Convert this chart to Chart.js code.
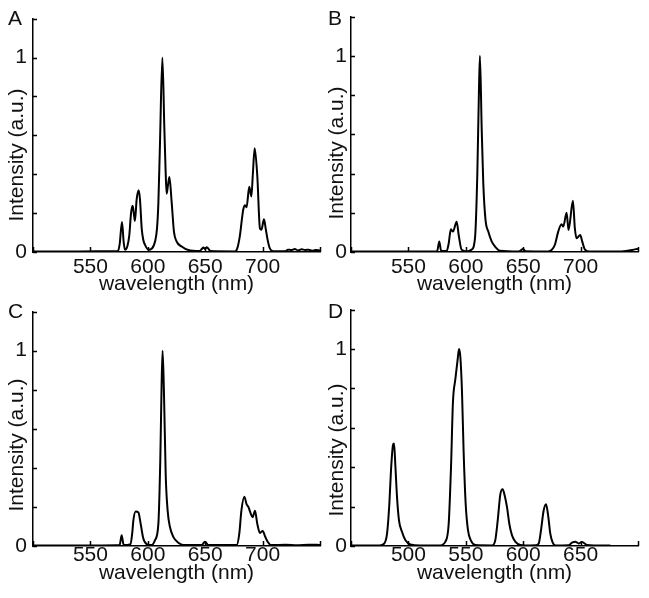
<!DOCTYPE html>
<html>
<head>
<meta charset="utf-8">
<title>Emission spectra</title>
<script src="https://cdn.jsdelivr.net/npm/chart.js@4"></script>
<style>
  body { margin: 0; background: #fff; width: 649px; height: 598px; position: relative; overflow: hidden; }
  .panel { position: absolute; }
</style>
</head>
<body>
<div class="panel" style="left:0;top:0"><canvas id="cA" width="324" height="298"></canvas></div>
<div class="panel" style="left:318px;top:0"><canvas id="cB" width="324" height="298"></canvas></div>
<div class="panel" style="left:0;top:293px"><canvas id="cC" width="324" height="305"></canvas></div>
<div class="panel" style="left:318px;top:293px"><canvas id="cD" width="324" height="305"></canvas></div>
<script>
// Spektren (Wellenlänge in nm, Intensität normiert)
const wlA = [500, 540, 570, 574, 575.5, 577.5, 579, 580.1, 582.2, 583.9, 585.4, 586.8, 588, 588.8, 590.3, 592, 593.2, 594.7, 596.1, 597.6,
  600.5, 603.4, 606.3, 608, 609.2, 610.6, 612.7, 614.4, 615.5, 616.4, 617.5, 618.8, 620.8, 622.8, 625.1, 629.5, 635.3, 645, 647, 648.4,
  650, 651.5, 653, 654.5, 676, 678, 680.3, 682, 683.2, 684.7, 686, 688.4, 690.2, 691.5, 693.1, 695.4, 697.7, 699, 701.2, 702.7,
  704.4, 706.4, 709.3, 720, 722, 725, 728, 731, 734, 737, 740, 743, 746, 750];
const intA = [0.003, 0.003, 0.004, 0.005, 0.04, 0.154, 0.05, 0.012, 0.03, 0.087, 0.2, 0.238, 0.19, 0.16, 0.27, 0.317, 0.27, 0.12, 0.062, 0.037,
  0.012, 0.017, 0.054, 0.12, 0.25, 0.556, 1.0, 0.64, 0.42, 0.30, 0.34, 0.385, 0.255, 0.104, 0.054, 0.028, 0.01, 0.005, 0.015, 0.023,
  0.015, 0.025, 0.015, 0.005, 0.003, 0.02, 0.087, 0.17, 0.22, 0.241, 0.23, 0.335, 0.285, 0.40, 0.534, 0.389, 0.12, 0.115, 0.168, 0.12,
  0.062, 0.017, 0.004, 0.004, 0.012, 0.01, 0.015, 0.008, 0.014, 0.01, 0.012, 0.006, 0.01, 0.008];

const wlB = [500, 560, 575, 576.9, 578.5, 583.3, 585, 587, 588.8, 592, 594, 596.3, 600.7, 605, 608, 610, 611.4, 612.3, 613.8, 615.2,
  617.2, 619.6, 622.5, 625.4, 629.7, 646, 650, 652, 671.8, 675, 677.6, 680.5, 683.4, 684.9, 687.8, 689.5, 693.3, 695, 696.5, 699.7,
  701.4, 703.8, 708, 735.7, 745, 750];
const intB = [0.003, 0.003, 0.004, 0.054, 0.005, 0.005, 0.04, 0.116, 0.104, 0.154, 0.079, 0.012, 0.003, 0.012, 0.07, 0.389, 0.807, 1.0, 0.64, 0.355,
  0.162, 0.104, 0.054, 0.028, 0.007, 0.003, 0.015, 0.004, 0.003, 0.012, 0.037, 0.104, 0.141, 0.13, 0.2, 0.112, 0.261, 0.12, 0.07, 0.087,
  0.054, 0.012, 0.002, 0.003, 0.01, 0.017];

const wlC = [500, 560, 575.5, 577.2, 579, 585, 586.5, 587.4, 589.4, 591.8, 593.8, 596.1, 599, 603.4, 606.3, 609.2, 610.9, 612.1, 612.9, 614.1,
  615.6, 617.3, 619.3, 622.2, 626.6, 630.9, 647, 649.8, 652.7, 677.4, 679.7, 681.5, 684.1, 686.1, 687.6, 689.6, 691.3, 693.4, 695.4, 697.7,
  700.1, 702.1, 704.4, 707, 720, 730, 740, 750];
const intC = [0.003, 0.003, 0.005, 0.055, 0.005, 0.01, 0.07, 0.13, 0.177, 0.172, 0.113, 0.038, 0.01, 0.005, 0.03, 0.113, 0.447, 0.847, 1.0, 0.78,
  0.363, 0.18, 0.097, 0.047, 0.017, 0.005, 0.005, 0.022, 0.005, 0.005, 0.063, 0.18, 0.252, 0.213, 0.2, 0.167, 0.147, 0.18, 0.113, 0.067,
  0.077, 0.05, 0.022, 0.005, 0.006, 0.004, 0.007, 0.005];

const wlD = [450, 475, 478.5, 481.4, 483.4, 484.8, 486.6, 487.5, 488.6, 490.1, 491.8, 494.4, 497.3, 501.7, 510, 527.8, 532.2, 535.1, 537.1, 538.8,
  540.9, 542.9, 544.1, 545.2, 546.7, 548.1, 549.9, 551.9, 554.5, 558.3, 572.8, 575.7, 577.8, 580.1, 582.1, 583.9, 585.9, 587.9, 590.2, 593.1,
  597.5, 601.9, 611, 613.5, 615.5, 617.8, 619.9, 621.9, 623.6, 625.7, 628, 639.6, 642.5, 645.4, 648.3, 651.2, 655.6, 661.4, 675.9];
const intD = [0.003, 0.003, 0.01, 0.063, 0.213, 0.38, 0.513, 0.52, 0.413, 0.247, 0.13, 0.072, 0.03, 0.008, 0.003, 0.003, 0.022, 0.113, 0.397, 0.73,
  0.847, 0.947, 1.0, 0.963, 0.78, 0.48, 0.213, 0.08, 0.027, 0.005, 0.003, 0.03, 0.13, 0.263, 0.288, 0.255, 0.197, 0.113, 0.055, 0.022,
  0.005, 0.003, 0.004, 0.013, 0.08, 0.18, 0.212, 0.147, 0.063, 0.017, 0.003, 0.004, 0.017, 0.022, 0.013, 0.02, 0.005, 0.003, 0.003];

// Achsenbeschriftungen
const xLabelsEu = [550, 600, 650, 700];
const xLabelsTb = [500, 550, 600, 650];
const yLabels = [0, 1];

const schrift = '"Liberation Sans", Arial, Helvetica, sans-serif';

// Panels: Canvas-ID, Buchstabe, Daten, Achsenbereich und ein paar Layoutwerte
const panels = [
  { id: 'cA', letter: 'A', wl: wlA, int: intA, xMin: 500, xMax: 750, xLabels: xLabelsEu, xH: 46, tickPad: 3, titlePad: 1, yPad: 6, lx: 8, ytx: 23, yty: 155 },
  { id: 'cB', letter: 'B', wl: wlB, int: intB, xMin: 500, xMax: 750, xLabels: xLabelsEu, xH: 46, tickPad: 3, titlePad: 1, yPad: 4, lx: 10, ytx: 25, yty: 153 },
  { id: 'cC', letter: 'C', wl: wlC, int: intC, xMin: 500, xMax: 750, xLabels: xLabelsEu, xH: 52, tickPad: -3, titlePad: 12, yPad: 6, lx: 8, ytx: 23, yty: 152 },
  { id: 'cD', letter: 'D', wl: wlD, int: intD, xMin: 450, xMax: 700, xLabels: xLabelsTb, xH: 52, tickPad: -3, titlePad: 12, yPad: 4, lx: 10, ytx: 25, yty: 157 }
];

// Tickmarken nach innen, Panelbuchstabe und y-Titel
const innenTicks = {
  id: 'innenTicks',
  afterDraw(chart, args, opts) {
    const { ctx, chartArea } = chart;
    const xs = chart.scales.x, ys = chart.scales.y;
    ctx.save();
    ctx.strokeStyle = '#000';
    ctx.lineWidth = 1.5;
    ctx.beginPath();
    xs.ticks.forEach(t => {
      const px = Math.round(xs.getPixelForValue(t.value)) + 0.5;
      ctx.moveTo(px, chartArea.bottom);
      ctx.lineTo(px, chartArea.bottom - 5);
    });
    ys.ticks.forEach(t => {
      const py = Math.round(ys.getPixelForValue(t.value)) + 0.5;
      ctx.moveTo(chartArea.left, py);
      ctx.lineTo(chartArea.left + 4, py);
    });
    ctx.stroke();

    ctx.fillStyle = '#111';
    ctx.font = '21px ' + schrift;
    ctx.textAlign = 'left';
    ctx.textBaseline = 'alphabetic';
    ctx.fillText(opts.letter, opts.lx, 25);

    ctx.translate(opts.ytx, opts.yty);
    ctx.rotate(-Math.PI / 2);
    ctx.textAlign = 'center';
    ctx.fillText('Intensity (a.u.)', 0, 0);
    ctx.restore();
  }
};

panels.forEach(p => {
  const punkte = p.wl.map((w, i) => ({ x: w, y: p.int[i] }));
  new Chart(document.getElementById(p.id), {
    type: 'line',
    data: {
      datasets: [{
        data: punkte,
        borderColor: '#000',
        borderWidth: 2,
        pointRadius: 0,
        cubicInterpolationMode: 'monotone',
        fill: false
      }]
    },
    options: {
      responsive: false,
      animation: false,
      events: [],
      layout: { padding: { top: 12, right: 4, left: 0, bottom: 0 } },
      plugins: {
        legend: { display: false },
        tooltip: { enabled: false },
        innenTicks: { letter: p.letter, lx: p.lx, ytx: p.ytx, yty: p.yty }
      },
      scales: {
        x: {
          type: 'linear',
          min: p.xMin,
          max: p.xMax,
          grid: { display: false, drawTicks: false },
          border: { display: true, color: '#000', width: 1.5 },
          ticks: {
            stepSize: 50,
            padding: p.tickPad,
            color: '#111',
            font: { family: schrift, size: 21 },
            maxRotation: 0,
            autoSkip: false,
            callback: v => p.xLabels.includes(v) ? String(v) : ''
          },
          title: {
            display: true,
            text: 'wavelength (nm)',
            color: '#111',
            font: { family: schrift, size: 21 },
            padding: { top: 0, bottom: p.titlePad }
          },
          afterFit: s => { s.height = p.xH; }
        },
        y: {
          type: 'linear',
          min: 0,
          max: 1.2,
          grid: { display: false, drawTicks: false },
          border: { display: true, color: '#000', width: 1.5 },
          ticks: {
            stepSize: 0.2,
            padding: p.yPad,
            color: '#111',
            font: { family: schrift, size: 21 },
            autoSkip: false,
            callback: v => yLabels.includes(Math.round(v * 100) / 100) ? String(Math.round(v)) : ''
          },
          afterFit: s => { s.width = 33; }
        }
      }
    },
    plugins: [innenTicks]
  });
});
</script>
</body>
</html>
